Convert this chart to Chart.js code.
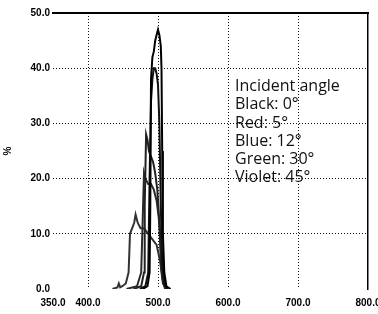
<!DOCTYPE html>
<html>
<head>
<meta charset="utf-8">
<script src="https://cdn.jsdelivr.net/npm/chart.js@4.4.1/dist/chart.umd.min.js"></script>
<style>
    html, body { margin: 0; padding: 0; background: #fff; }
    #wrap { position: relative; width: 378px; height: 314px; }
    #nota { position: absolute; left: 235px; top: 76px; font-family: "Open Sans", sans-serif;
            font-size: 16px; line-height: 18.3px; color: #111; white-space: nowrap; }
</style>
</head>
<body>
<div id="wrap">
    <canvas id="espectro" width="378" height="314"></canvas>
    <div id="nota"></div>
</div>
<script>
// ticks
var xTicks = [350, 400, 500, 600, 700, 800];
var yTicks = [0, 10, 20, 30, 40, 50];
var yTitle = "%";

// legend text
var notaTitulo = "Incident angle";
var nombres = ["Black: 0°", "Red: 5°", "Blue: 12°", "Green: 30°", "Violet: 45°"];

// transmission curves (wavelength, %)
var lamBlack = [478, 485, 488, 489, 490, 492, 494, 496, 498, 500, 502, 504, 505, 506, 507, 509, 512, 518];
var tBlack   = [0, 0.5, 3, 15, 38, 42, 43, 45, 46, 47, 46, 44, 40, 25, 10, 3, 0.5, 0];

var lamRed = [474, 482, 486, 488, 490, 492, 494, 496, 498, 500, 502, 504, 506, 509, 514];
var tRed   = [0, 0.5, 3, 20, 34, 38, 40, 40, 39, 37, 30, 15, 5, 1, 0];

var lamBlue = [465, 476, 480, 481, 483, 485, 487, 490, 493, 496, 499, 502, 504, 507, 512];
var tBlue   = [0, 0.5, 3, 15, 28, 27, 25, 24, 23, 21, 18, 12, 5, 1, 0];

var lamGreen = [455, 470, 476, 478, 480, 482, 486, 490, 494, 498, 501, 503, 505, 508, 513];
var tGreen   = [0, 0.5, 3, 12, 21, 20, 19, 19, 18, 16, 13, 10, 5, 1, 0];

var lamViolet = [435, 442, 444, 446, 449, 454, 458, 460, 463, 466, 468, 471, 475, 480, 486, 492, 498, 503, 506, 510];
var tViolet   = [0, 0.3, 1, 0.3, 0.5, 1, 3, 10, 11, 12, 13.5, 12, 11, 11, 10, 9, 8, 5, 2, 0];

var colores = ["#000000", "#111111", "#222222", "#2a2a2a", "#333333"];

function puntos(lam, t) {
    var out = [];
    lam.forEach(function (v, i) {
        out.push({ x: v, y: t[i] });
    });
    return out;
}

var series = [
    puntos(lamBlack, tBlack),
    puntos(lamRed, tRed),
    puntos(lamBlue, tBlue),
    puntos(lamGreen, tGreen),
    puntos(lamViolet, tViolet)
];

var datasets = series.map(function (d, i) {
    return {
        label: nombres[i],
        data: d,
        borderColor: colores[i],
        borderWidth: 2,
        pointRadius: 0,
        fill: false,
        tension: 0
    };
});

// legend block as plain text
var nota = document.getElementById("nota");
[notaTitulo].concat(nombres).forEach(function (s) {
    var linea = document.createElement("div");
    linea.textContent = s;
    nota.appendChild(linea);
});

var fuenteTicks = { family: "Liberation Sans", size: 10, weight: "bold" };

var ctx = document.getElementById("espectro").getContext("2d");
var chart = new Chart(ctx, {
    type: "line",
    data: { datasets: datasets },
    options: {
        responsive: false,
        animation: false,
        devicePixelRatio: 1,
        layout: { padding: { top: 13, right: 10, left: 0, bottom: 0 } },
        plugins: { legend: { display: false }, tooltip: { enabled: false } },
        scales: {
            x: {
                type: "linear",
                min: 350,
                max: 800,
                afterBuildTicks: function (scale) {
                    scale.ticks = xTicks.map(function (v) { return { value: v }; });
                },
                afterFit: function (scale) {
                    scale.height = 25;
                    scale.paddingLeft = 0;
                    scale.paddingRight = 0;
                },
                ticks: {
                    autoSkip: false,
                    maxRotation: 0,
                    padding: 8,
                    color: "#000",
                    font: fuenteTicks,
                    callback: function (v) { return Number(v).toFixed(1); }
                },
                grid: {
                    drawTicks: false,
                    color: function (c) {
                        var v = c.tick ? c.tick.value : null;
                        return (v === 350 || v === 800) ? "rgba(0,0,0,0)" : "#111";
                    }
                },
                border: { display: false, dash: [1, 2] }
            },
            y: {
                min: 0,
                max: 50,
                afterBuildTicks: function (scale) {
                    scale.ticks = yTicks.map(function (v) { return { value: v }; });
                },
                afterFit: function (scale) {
                    scale.width = 53;
                },
                title: {
                    display: true,
                    text: yTitle,
                    color: "#000",
                    font: { family: "Liberation Sans", size: 10, weight: "bold" },
                    padding: { top: 2, bottom: 0 }
                },
                ticks: {
                    padding: 3,
                    color: "#000",
                    font: fuenteTicks,
                    callback: function (v) { return Number(v).toFixed(1); }
                },
                grid: {
                    drawTicks: false,
                    color: function (c) {
                        var v = c.tick ? c.tick.value : null;
                        return (v === 0 || v === 50) ? "rgba(0,0,0,0)" : "#111";
                    }
                },
                border: { display: false, dash: [1, 2] }
            },
            xTop: {
                type: "linear",
                position: "top",
                min: 350,
                max: 800,
                ticks: { display: false },
                grid: { display: false, drawTicks: false },
                border: { display: true, color: "#000", width: 2 }
            },
            yRight: {
                position: "right",
                min: 0,
                max: 50,
                ticks: { display: false },
                grid: { display: false, drawTicks: false },
                border: { display: true, color: "#000", width: 1.5 }
            }
        }
    }
});
</script>
</body>
</html>
